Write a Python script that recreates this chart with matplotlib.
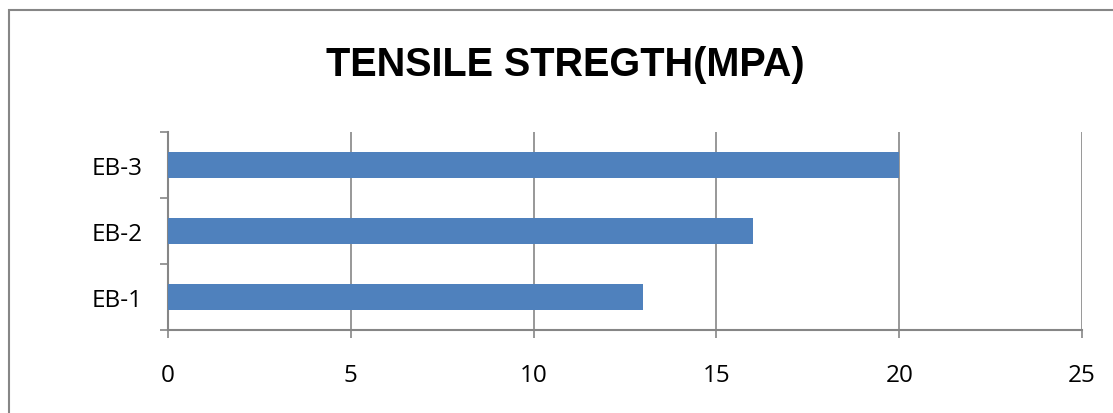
import numpy as np
import matplotlib.pyplot as plt
from matplotlib.patches import Rectangle

categories = ['EB-1', 'EB-2', 'EB-3']
strength = [13, 16, 20]
xticks = [0, 5, 10, 15, 20, 25]

BAR = '#4F81BD'
GREY = '#868686'

plt.rcParams['font.family'] = ['Open Sans', 'DejaVu Sans']

fig = plt.figure(figsize=(11.13, 4.14), dpi=100)
ax = fig.add_axes([168 / 1113, 1 - 331 / 414, (1082 - 168) / 1113, 198 / 414])

y = np.arange(len(categories))
ax.barh(y, strength, height=0.4, color=BAR, zorder=3)

ax.set_xlim(0, 25)
ax.set_ylim(-0.5, 2.5)
ax.set_xticks(xticks)
ax.set_xticklabels([str(v) for v in xticks], fontsize=17.5)
ax.set_yticks(y)
ax.set_yticklabels(categories, fontsize=17.5)
ax.set_yticks([-0.5, 0.5, 1.5, 2.5], minor=True)

ax.tick_params(axis='y', which='major', length=0, pad=18)
ax.tick_params(axis='y', which='minor', length=6, width=1.2, color=GREY, direction='out')
ax.tick_params(axis='x', length=6, width=1.2, color=GREY, direction='out', pad=18)

ax.grid(axis='x', color=GREY, lw=1.2, zorder=1)
for s in ['top', 'right']:
    ax.spines[s].set_visible(False)
for s in ['left', 'bottom']:
    ax.spines[s].set_color(GREY)
    ax.spines[s].set_linewidth(1.5)

fig.text(0.508, 0.843, 'TENSILE STREGTH(MPA)', ha='center', va='center',
         fontsize=28.5, fontweight='bold', family=['Liberation Sans', 'DejaVu Sans'])

fig.patches.append(Rectangle((9 / 1113, -0.1), 1.2, 1.1 - 11 / 414, transform=fig.transFigure,
                             fill=False, edgecolor=GREY, lw=1.5))

fig.savefig('out.png', dpi=100)
